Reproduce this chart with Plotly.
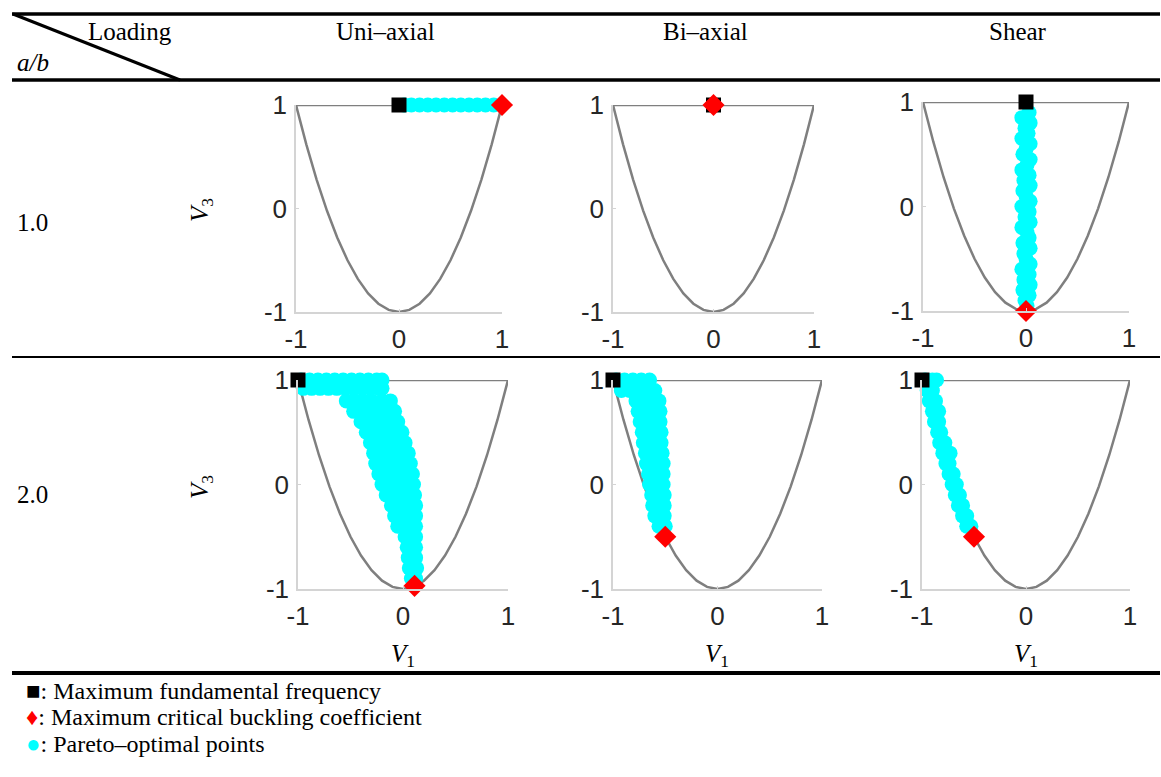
import plotly.graph_objects as go

# ---------------- data ----------------
col_titles = ["Uni–axial", "Bi–axial", "Shear"]
row_titles = ["1.0", "2.0"]
tick_vals = [-1, 0, 1]
tick_text = ["-1", "0", "1"]

# feasible-region boundary
bound_v1 = [-1.0, -0.9, -0.8, -0.7, -0.6, -0.5, -0.4, -0.3, -0.2, -0.1, 0.0,
            0.1, 0.2, 0.3, 0.4, 0.5, 0.6, 0.7, 0.8, 0.9, 1.0, -1.0]
bound_v3 = [1.0, 0.62, 0.28, -0.02, -0.28, -0.5, -0.68, -0.82, -0.92, -0.98, -1.0,
            -0.98, -0.92, -0.82, -0.68, -0.5, -0.28, -0.02, 0.28, 0.62, 1.0, 1.0]

# Pareto-optimal points, a/b = 1.0
uni1_v1 = [0.05, 0.12, 0.2, 0.28, 0.36, 0.44, 0.52, 0.6, 0.68, 0.76, 0.84, 0.92]
uni1_v3 = [1.0, 1.0, 1.0, 1.0, 1.0, 1.0, 1.0, 1.0, 1.0, 1.0, 1.0, 1.0]
bi1_v1 = []
bi1_v3 = []
sh1_v1 = [0.03, -0.04, 0.04, -0.01, 0.02, -0.04, 0.04, 0.0, -0.03, 0.04,
          0.01, -0.04, 0.03, -0.02, 0.04, -0.03, 0.0, 0.04, -0.04, 0.03,
          -0.01, 0.04, -0.04, 0.01, 0.03, -0.03, 0.04, -0.02, 0.0, 0.04,
          -0.04, 0.03, -0.02, 0.04, -0.03, 0.03, -0.01, 0.01]
sh1_v3 = [0.9, 0.85, 0.8, 0.75, 0.7, 0.65, 0.6, 0.55, 0.5, 0.45,
          0.4, 0.35, 0.3, 0.25, 0.2, 0.15, 0.1, 0.05, 0.0, -0.05,
          -0.1, -0.15, -0.2, -0.25, -0.3, -0.35, -0.4, -0.45, -0.5, -0.55,
          -0.6, -0.65, -0.7, -0.75, -0.8, -0.85, -0.9, -0.95]

# Pareto-optimal points, a/b = 2.0
uni2_v1 = [-0.97, -0.89, -0.81, -0.73, -0.65, -0.57, -0.49, -0.41, -0.33, -0.25, -0.2,
           -0.95, -0.87, -0.79, -0.71, -0.63, -0.55, -0.47, -0.39, -0.31, -0.23, -0.2,
           -0.54, -0.46, -0.38, -0.3, -0.2, -0.12,
           -0.47, -0.39, -0.29, -0.21, -0.13, -0.08,
           -0.4, -0.32, -0.22, -0.14, -0.05,
           -0.35, -0.27, -0.17, -0.09, -0.01,
           -0.31, -0.23, -0.14, -0.06, 0.02,
           -0.28, -0.2, -0.11, -0.03, 0.05,
           -0.26, -0.18, -0.09, -0.01, 0.07,
           -0.23, -0.15, -0.06, 0.02, 0.09,
           -0.2, -0.12, -0.03, 0.05, 0.1,
           -0.16, -0.08, 0.01, 0.07, 0.11,
           -0.11, -0.03, 0.05, 0.12,
           -0.08, 0.0, 0.06, 0.12,
           -0.05, 0.03, 0.08, 0.12,
           0.02, 0.07, 0.12,
           0.04, 0.08, 0.12,
           0.05, 0.09, 0.12,
           0.06, 0.09, 0.13,
           0.08, 0.12]
uni2_v3 = [1.0, 1.0, 1.0, 1.0, 1.0, 1.0, 1.0, 1.0, 1.0, 1.0, 1.0,
           0.92, 0.92, 0.92, 0.92, 0.92, 0.92, 0.92, 0.92, 0.92, 0.92, 0.92,
           0.8, 0.8, 0.8, 0.8, 0.8, 0.8,
           0.7, 0.7, 0.7, 0.7, 0.7, 0.7,
           0.6, 0.6, 0.6, 0.6, 0.6,
           0.5, 0.5, 0.5, 0.5, 0.5,
           0.4, 0.4, 0.4, 0.4, 0.4,
           0.3, 0.3, 0.3, 0.3, 0.3,
           0.2, 0.2, 0.2, 0.2, 0.2,
           0.1, 0.1, 0.1, 0.1, 0.1,
           0.0, 0.0, 0.0, 0.0, 0.0,
           -0.1, -0.1, -0.1, -0.1, -0.1,
           -0.2, -0.2, -0.2, -0.2,
           -0.3, -0.3, -0.3, -0.3,
           -0.4, -0.4, -0.4, -0.4,
           -0.5, -0.5, -0.5,
           -0.6, -0.6, -0.6,
           -0.7, -0.7, -0.7,
           -0.8, -0.8, -0.8,
           -0.9, -0.9]
bi2_v1 = [-0.97, -0.89, -0.81, -0.73, -0.65,
          -0.92, -0.84, -0.76, -0.68, -0.6,
          -0.78, -0.7, -0.62, -0.56,
          -0.76, -0.68, -0.6, -0.55,
          -0.74, -0.66, -0.58, -0.55,
          -0.72, -0.64, -0.57, -0.54,
          -0.71, -0.63, -0.56, -0.54,
          -0.69, -0.61, -0.53,
          -0.68, -0.6, -0.52,
          -0.66, -0.58, -0.52,
          -0.65, -0.58, -0.52,
          -0.63, -0.56, -0.51,
          -0.62, -0.56, -0.51,
          -0.6, -0.55, -0.51,
          -0.56, -0.5]
bi2_v3 = [1.0, 1.0, 1.0, 1.0, 1.0,
          0.9, 0.9, 0.9, 0.9, 0.9,
          0.8, 0.8, 0.8, 0.8,
          0.7, 0.7, 0.7, 0.7,
          0.6, 0.6, 0.6, 0.6,
          0.5, 0.5, 0.5, 0.5,
          0.4, 0.4, 0.4, 0.4,
          0.3, 0.3, 0.3,
          0.2, 0.2, 0.2,
          0.1, 0.1, 0.1,
          0.0, 0.0, 0.0,
          -0.1, -0.1, -0.1,
          -0.2, -0.2, -0.2,
          -0.3, -0.3, -0.3,
          -0.4, -0.4]
sh2_v1 = [-0.97, -0.9, -0.86,
          -0.95, -0.9,
          -0.93, -0.87,
          -0.9, -0.84,
          -0.88, -0.84,
          -0.85, -0.82,
          -0.83, -0.78,
          -0.8, -0.73,
          -0.77, -0.74,
          -0.74, -0.7,
          -0.71, -0.67,
          -0.68, -0.64,
          -0.65, -0.61,
          -0.61, -0.57,
          -0.57, -0.53]
sh2_v3 = [1.0, 1.0, 1.0,
          0.9, 0.9,
          0.8, 0.8,
          0.7, 0.7,
          0.6, 0.6,
          0.5, 0.5,
          0.4, 0.4,
          0.3, 0.3,
          0.2, 0.2,
          0.1, 0.1,
          0.0, 0.0,
          -0.1, -0.1,
          -0.2, -0.2,
          -0.3, -0.3,
          -0.4, -0.4]

# optimum points: [uni1, bi1, sh1, uni2, bi2, sh2]
freq_v1 = [0.0, 0.0, 0.0, -1.0, -1.0, -1.0]
freq_v3 = [1.0, 1.0, 1.0, 1.0, 1.0, 1.0]
buck_v1 = [1.0, 0.0, 0.0, 0.11, -0.5, -0.5]
buck_v3 = [1.0, 1.0, -1.0, -0.97, -0.5, -0.5]

pareto = [(uni1_v1, uni1_v3), (bi1_v1, bi1_v3), (sh1_v1, sh1_v3),
          (uni2_v1, uni2_v3), (bi2_v1, bi2_v3), (sh2_v1, sh2_v3)]

# ---------------- layout helpers ----------------
W, H = 1161, 777
# panel pixel boxes (left, right, top, bottom)
boxes = [(296, 502, 105, 312), (613, 814, 105, 312), (923, 1129, 102, 311),
         (298, 508, 380, 589), (613, 822, 380, 589), (922, 1130, 380, 589)]


def px(x):
    return x / W


def py(y):
    return 1 - y / H


fig = go.Figure()
layout_axes = {}
tick_font = dict(family="Liberation Sans, Arial, sans-serif", size=26, color="#262626")
for i, (l, r, t, b) in enumerate(boxes):
    n = i + 1
    xa = "x" if n == 1 else f"x{n}"
    ya = "y" if n == 1 else f"y{n}"
    pv1, pv3 = pareto[i]
    fig.add_trace(go.Scatter(x=bound_v1, y=bound_v3, mode="lines",
                             line=dict(color="#7f7f7f", width=2.5),
                             xaxis=xa, yaxis=ya, showlegend=False, hoverinfo="skip"))
    if i == 2:
        order = ["pareto", "buck", "freq"]
    else:
        order = ["pareto", "freq", "buck"]
    for item in order:
        if item == "pareto" and len(pv1) > 0:
            fig.add_trace(go.Scatter(x=pv1, y=pv3, mode="markers",
                                     marker=dict(color="#00FFFF", size=15, line=dict(width=0)),
                                     cliponaxis=False, xaxis=xa, yaxis=ya, showlegend=False))
        elif item == "freq":
            fig.add_trace(go.Scatter(x=[freq_v1[i]], y=[freq_v3[i]], mode="markers",
                                     marker=dict(color="black", symbol="square", size=15,
                                                 line=dict(width=0)),
                                     cliponaxis=False, xaxis=xa, yaxis=ya, showlegend=False))
        elif item == "buck":
            fig.add_trace(go.Scatter(x=[buck_v1[i]], y=[buck_v3[i]], mode="markers",
                                     marker=dict(color="#FF0000", symbol="diamond", size=17,
                                                 line=dict(width=0)),
                                     cliponaxis=False, xaxis=xa, yaxis=ya, showlegend=False))
    axis_common = dict(range=[-1, 1], showgrid=False, zeroline=False, showline=True,
                       linecolor="#d4d4d4", linewidth=1.5, mirror=False,
                       ticks="inside", ticklen=3, tickcolor="#d4d4d4",
                       tickvals=tick_vals, ticktext=tick_text, tickfont=tick_font,
                       fixedrange=True, automargin=False)
    layout_axes["xaxis" if n == 1 else f"xaxis{n}"] = dict(
        axis_common, domain=[px(l), px(r)], anchor=ya, ticklabelstandoff=3)
    layout_axes["yaxis" if n == 1 else f"yaxis{n}"] = dict(
        axis_common, domain=[py(b), py(t)], anchor=xa, ticklabelstandoff=2)

serif = "Liberation Serif, Times New Roman, serif"
ann = []


def text(x, y, s, size=25, xanchor="center", angle=0, color="black"):
    ann.append(dict(x=px(x), y=py(y), xref="paper", yref="paper", text=s,
                    showarrow=False, xanchor=xanchor, yanchor="middle", textangle=angle,
                    font=dict(family=serif, size=size, color=color)))


text(130, 32, "Loading")
text(33, 62, "<i>a/b</i>")
for cx, s in zip([385, 705, 1018], col_titles):
    text(cx, 32, s)
for cy, s in zip([222, 495], row_titles):
    text(32, cy, s)
for cy in [210, 487]:
    text(201, cy, "<i>V</i><sub>3</sub>", size=25, angle=-90)
for cx in [403, 717, 1026]:
    text(cx, 655, "<i>V</i><sub>1</sub>", size=25)

text(24, 691, "<span style='color:black'>■</span>: Maximum fundamental frequency",
     size=24, xanchor="left")
text(24, 717, "<span style='color:#FF0000'>♦</span>: Maximum critical buckling coefficient",
     size=24, xanchor="left")
text(24, 744, "<span style='color:#00FFFF'>●</span>: Pareto–optimal points",
     size=24, xanchor="left")

shapes = []


def hline(y, w):
    shapes.append(dict(type="line", xref="paper", yref="paper", x0=px(12), x1=px(1160),
                       y0=py(y), y1=py(y), line=dict(color="black", width=w)))


hline(14, 3.5)
hline(80, 3.5)
hline(357, 2)
hline(673, 4)
shapes.append(dict(type="line", xref="paper", yref="paper", x0=px(13), y0=py(14),
                   x1=px(180), y1=py(80), line=dict(color="black", width=3)))

fig.update_layout(width=W, height=H,
                  margin=dict(l=0, r=0, t=0, b=0, pad=0, autoexpand=False),
                  paper_bgcolor="white", plot_bgcolor="white",
                  annotations=ann, shapes=shapes, showlegend=False, **layout_axes)

fig.write_html("out.html",
               post_script="document.body.style.margin='0px';"
                           "document.body.style.overflow='hidden';")
